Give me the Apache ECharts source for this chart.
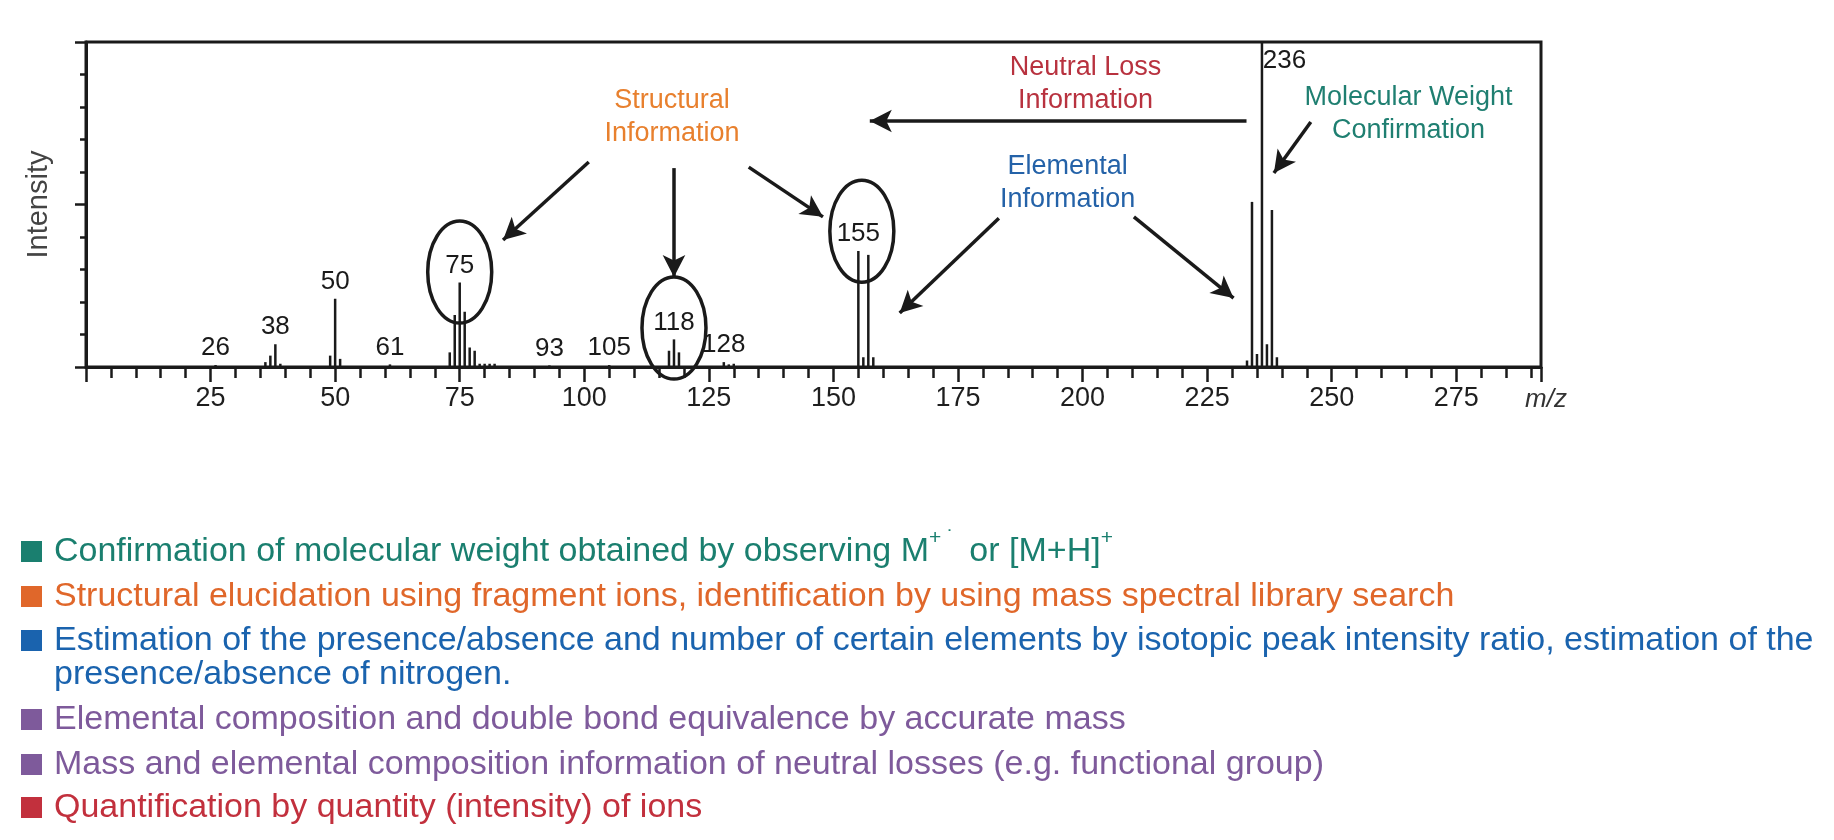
<!DOCTYPE html>
<html>
<head>
<meta charset="utf-8">
<title>Mass spectrum information</title>
<script src="https://cdn.jsdelivr.net/npm/echarts@6/dist/echarts.min.js"></script>
<style>
  html, body { margin: 0; padding: 0; background: #ffffff; }
  #chart { width: 1834px; height: 840px; }
</style>
</head>
<body>
<div id="chart"></div>
<script>
// peaks: m/z and relative intensity (%)
const mzValues = [26, 36, 37, 38, 39, 49, 50, 51, 61,
  73, 74, 75, 76, 77, 78, 79, 80, 81, 82, 93, 105,
  117, 118, 119, 128, 129, 130, 155, 156, 157, 158,
  233, 234, 235, 236, 237, 238, 239]
const intensities = [0.6, 1.5, 3.5, 7, 1, 3.5, 21, 2.5, 0.8,
  4.5, 16, 26, 17, 6, 5, 1, 1, 1, 1, 0.5, 0.6,
  5, 8.5, 4.5, 1.5, 0.8, 1, 35.7, 3, 34.5, 3,
  2, 50.8, 4, 100, 7, 48.3, 3]
// peaks that carry their m/z as a label
const labelledPeaks = [26, 38, 50, 61, 75, 93, 105, 118, 128, 155, 236]

// annotations, placed in data coordinates (m/z, intensity)
const circledPeaks = [[75.0, 29.2], [118.0, 12.0], [155.7, 41.8]]
const arrowFrom = [[232.9, 75.7], [100.9, 63.1], [118.0, 61.2], [133.0, 61.5], [183.2, 45.8], [210.3, 46.2], [245.8, 75.4]]
const arrowTo = [[157.3, 75.7], [83.7, 39.1], [118.0, 27.7], [147.9, 46.2], [163.3, 16.6], [230.3, 21.2], [238.4, 59.7]]
const noteTexts = ['Structural\nInformation', 'Neutral Loss\nInformation', 'Elemental\nInformation', 'Molecular Weight\nConfirmation']
const notePos = [[117.6, 76.9], [200.6, 87.1], [197.0, 56.6], [265.4, 77.8]]
const noteColors = ['#e8802e', '#b8323f', '#2462a8', '#1f7f71']

// legend lines under the chart
const legendTexts = [
  'Confirmation of molecular weight obtained by observing M{sup|+ ˙ } or [M+H]{sup|+}',
  'Structural elucidation using fragment ions, identification by using mass spectral library search',
  'Estimation of the presence/absence and number of certain elements by isotopic peak intensity ratio, estimation of the\npresence/absence of nitrogen.',
  'Elemental composition and double bond equivalence by accurate mass',
  'Mass and elemental composition information of neutral losses (e.g. functional group)',
  'Quantification by quantity (intensity) of ions'
]
const legendColors = ['#1a7f6f', '#e0672a', '#1a63ae', '#7e5a9b', '#7e5a9b', '#c2303d']
const legendY = [552, 597, 641, 720, 765, 808]

const FONT = '"Liberation Sans", Arial, Helvetica, sans-serif'
const INK = '#1a1a1a'

const chart = echarts.init(document.getElementById('chart'), null, { renderer: 'canvas' })

const peakData = mzValues.map((m, i) => {
  const item = { value: [m, intensities[i]] }
  if (labelledPeaks.indexOf(m) >= 0) {
    item.label = m === 236
      ? { show: true, position: [2, 6], align: 'left', verticalAlign: 'top' }
      : { show: true, position: 'top', distance: 4 }
  }
  return item
})

// legend: coloured square + text per line
const legendGraphics = []
legendTexts.forEach((t, i) => {
  legendGraphics.push({
    type: 'rect',
    left: 21,
    top: legendY[i] - 11,
    shape: { width: 21, height: 21 },
    style: { fill: legendColors[i] }
  })
  legendGraphics.push({
    type: 'text',
    left: 54,
    top: legendY[i] - (i === 0 ? 24 : 17),
    style: {
      text: t,
      fill: legendColors[i],
      fontSize: 34,
      fontFamily: FONT,
      lineHeight: i === 0 ? 48 : 34,
      rich: {
        sup: { fontSize: 21, lineHeight: 24, verticalAlign: 'top', fill: legendColors[i], fontFamily: FONT }
      }
    }
  })
})

const option = {
  backgroundColor: '#ffffff',
  animation: false,
  grid: {
    left: 86, right: 293, top: 42, bottom: 473,
    show: true, borderColor: INK, borderWidth: 3,
    outerBoundsMode: 'none'
  },
  xAxis: [
    {
      type: 'value', min: 0, max: 292, interval: 25, position: 'bottom',
      axisLine: { show: true, lineStyle: { color: INK, width: 3 } },
      axisTick: { show: true, length: 15, lineStyle: { color: INK, width: 2.5 } },
      axisLabel: {
        show: true, margin: 18, fontSize: 27, color: '#1e1e1e', fontFamily: FONT,
        formatter: v => (v > 0 && v % 25 === 0) ? String(v) : ''
      },
      splitLine: { show: false },
      name: 'm/z', nameLocation: 'end', nameGap: -16,
      nameTextStyle: {
        fontStyle: 'italic', fontSize: 26, color: '#333', fontFamily: FONT,
        verticalAlign: 'top', align: 'left', padding: [20, 0, 0, 0]
      }
    },
    {
      // minor ticks every 5 units
      type: 'value', min: 0, max: 292, interval: 5, position: 'bottom',
      axisLine: { show: false },
      axisTick: { show: true, length: 11, lineStyle: { color: INK, width: 2.5 } },
      axisLabel: { show: false },
      splitLine: { show: false }
    }
  ],
  yAxis: [
    {
      type: 'value', min: 0, max: 100, interval: 10, position: 'left',
      axisLine: { show: true, lineStyle: { color: INK, width: 3 } },
      axisTick: { show: true, length: 6, lineStyle: { color: INK, width: 2.5 } },
      axisLabel: { show: false },
      splitLine: { show: false },
      name: 'Intensity', nameLocation: 'middle', nameGap: 33, nameRotate: 90,
      nameTextStyle: { fontSize: 29, color: '#444', fontFamily: FONT }
    },
    {
      type: 'value', min: 0, max: 100, interval: 50, position: 'left',
      axisLine: { show: false },
      axisTick: { show: true, length: 11, lineStyle: { color: INK, width: 2.5 } },
      axisLabel: { show: false },
      splitLine: { show: false }
    }
  ],
  series: [
    {
      name: 'peaks',
      type: 'bar',
      xAxisIndex: 0,
      yAxisIndex: 0,
      barWidth: 2.5,
      itemStyle: { color: INK },
      label: { color: INK, fontSize: 26, fontFamily: FONT, formatter: p => String(p.value[0]) },
      data: peakData,
      markLine: {
        silent: true,
        symbol: ['none', 'arrow'],
        symbolSize: [17, 22],
        lineStyle: { color: INK, width: 3.5, type: 'solid' },
        label: { show: false },
        emphasis: { disabled: true },
        data: arrowFrom.map((p, i) => [{ coord: p }, { coord: arrowTo[i] }])
      }
    },
    {
      // ellipses round the highlighted peaks
      name: 'circles',
      type: 'custom',
      silent: true,
      z: 5,
      data: circledPeaks,
      renderItem: (params, api) => {
        const c = api.coord([api.value(0), api.value(1)])
        return {
          type: 'ellipse',
          shape: { cx: c[0], cy: c[1], rx: 32, ry: 51 },
          style: { fill: 'none', stroke: INK, lineWidth: 3.5 }
        }
      }
    },
    {
      // coloured notes
      name: 'notes',
      type: 'custom',
      silent: true,
      z: 6,
      data: notePos,
      renderItem: (params, api) => {
        const c = api.coord([api.value(0), api.value(1)])
        return {
          type: 'text',
          x: c[0],
          y: c[1],
          style: {
            text: noteTexts[params.dataIndex],
            fill: noteColors[params.dataIndex],
            fontSize: 27,
            fontFamily: FONT,
            align: 'center',
            verticalAlign: 'middle',
            lineHeight: 33
          }
        }
      }
    }
  ],
  graphic: { elements: legendGraphics }
}

chart.setOption(option)
</script>
</body>
</html>
